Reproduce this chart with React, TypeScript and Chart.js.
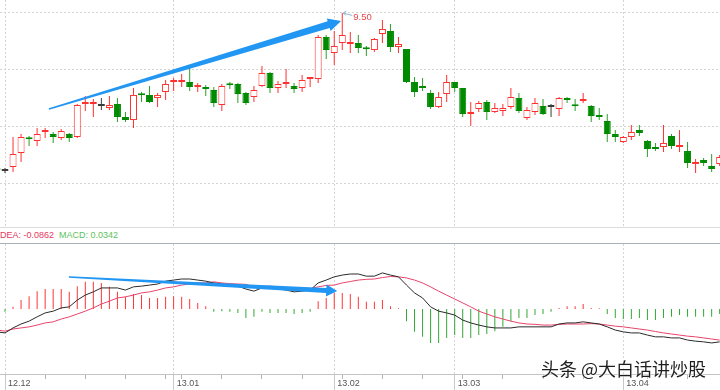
import React, { useEffect, useRef } from 'react';
import { Chart, registerables } from 'chart.js';

Chart.register(...registerables);

// ---------- data ----------
const dates = [
  '2012-11-30',
  '2012-12-03', '2012-12-04', '2012-12-05', '2012-12-06', '2012-12-07',
  '2012-12-10', '2012-12-11', '2012-12-12', '2012-12-13', '2012-12-14',
  '2012-12-17', '2012-12-18', '2012-12-19', '2012-12-20', '2012-12-21',
  '2012-12-24', '2012-12-25', '2012-12-26', '2012-12-27', '2012-12-28',
  '2012-12-31', '2013-01-04',
  '2013-01-07', '2013-01-08', '2013-01-09', '2013-01-10', '2013-01-11',
  '2013-01-14', '2013-01-15', '2013-01-16', '2013-01-17', '2013-01-18',
  '2013-01-21', '2013-01-22', '2013-01-23', '2013-01-24', '2013-01-25',
  '2013-01-28', '2013-01-29', '2013-01-30', '2013-01-31', '2013-02-01',
  '2013-02-04', '2013-02-05', '2013-02-06', '2013-02-07', '2013-02-08',
  '2013-02-18', '2013-02-19', '2013-02-20', '2013-02-21', '2013-02-22',
  '2013-02-25', '2013-02-26', '2013-02-27', '2013-02-28', '2013-03-01',
  '2013-03-04', '2013-03-05', '2013-03-06', '2013-03-07', '2013-03-08',
  '2013-03-11', '2013-03-12', '2013-03-13', '2013-03-14', '2013-03-15',
  '2013-03-18', '2013-03-19', '2013-03-20', '2013-03-21', '2013-03-22',
  '2013-03-25', '2013-03-26', '2013-03-27', '2013-03-28', '2013-03-29',
  '2013-04-01', '2013-04-02', '2013-04-03',
  '2013-04-08', '2013-04-09', '2013-04-10', '2013-04-11', '2013-04-12',
  '2013-04-15', '2013-04-16', '2013-04-17', '2013-04-18', '2013-04-19',
];

const open = [
  8.140, 8.114, 8.149, 8.272, 8.395, 8.377, 8.456, 8.439, 8.403, 8.439,
  8.412, 8.702, 8.702, 8.684, 8.667, 8.702, 8.588, 8.561, 8.781, 8.781,
  8.754, 8.807, 8.895, 8.895, 8.895, 8.851, 8.851, 8.825, 8.693, 8.868,
  8.877, 8.798, 8.763, 8.860, 8.974, 8.842, 8.877, 8.860, 8.842, 8.921,
  8.921, 9.289, 9.149, 9.237, 9.228, 9.237, 9.184, 9.175, 9.316, 9.342,
  9.202, 9.184, 8.895, 8.860, 8.798, 8.675, 8.789, 8.895, 8.842, 8.614,
  8.658, 8.719, 8.632, 8.640, 8.675, 8.754, 8.579, 8.632, 8.684, 8.675,
  8.658, 8.754, 8.684, 8.728, 8.684, 8.605, 8.553, 8.439, 8.368, 8.412,
  8.474, 8.377, 8.325, 8.325, 8.421, 8.325, 8.289, 8.175, 8.211, 8.158,
  8.175,
];
const high = [
  8.158, 8.140, 8.412, 8.439, 8.421, 8.491, 8.491, 8.456, 8.482, 8.447,
  8.702, 8.772, 8.746, 8.754, 8.772, 8.754, 8.632, 8.842, 8.807, 8.860,
  8.798, 8.912, 8.930, 8.965, 9.017, 8.886, 8.868, 8.851, 8.877, 8.895,
  8.886, 8.807, 8.860, 9.035, 8.983, 8.903, 9.009, 8.886, 8.956, 8.930,
  9.307, 9.307, 9.342, 9.500, 9.333, 9.307, 9.211, 9.281, 9.439, 9.403,
  9.289, 9.184, 8.939, 8.930, 8.825, 8.807, 8.956, 8.895, 8.842, 8.719,
  8.728, 8.737, 8.710, 8.702, 8.842, 8.798, 8.675, 8.754, 8.746, 8.702,
  8.763, 8.763, 8.746, 8.798, 8.693, 8.667, 8.614, 8.474, 8.421, 8.517,
  8.517, 8.386, 8.360, 8.517, 8.439, 8.474, 8.368, 8.219, 8.228, 8.263,
  8.254,
];
const low = [
  8.105, 8.096, 8.105, 8.193, 8.333, 8.333, 8.403, 8.360, 8.386, 8.368,
  8.403, 8.640, 8.588, 8.649, 8.649, 8.544, 8.544, 8.491, 8.719, 8.710,
  8.675, 8.737, 8.816, 8.851, 8.816, 8.807, 8.772, 8.675, 8.640, 8.833,
  8.710, 8.693, 8.719, 8.851, 8.798, 8.798, 8.842, 8.798, 8.807, 8.851,
  8.886, 9.096, 9.044, 9.175, 9.149, 9.149, 9.123, 9.158, 9.237, 9.158,
  9.149, 8.886, 8.763, 8.816, 8.658, 8.667, 8.719, 8.807, 8.588, 8.509,
  8.632, 8.561, 8.623, 8.596, 8.658, 8.623, 8.561, 8.605, 8.605, 8.588,
  8.596, 8.710, 8.640, 8.710, 8.544, 8.561, 8.368, 8.368, 8.360, 8.386,
  8.421, 8.237, 8.289, 8.281, 8.307, 8.281, 8.140, 8.096, 8.158, 8.105,
  8.158,
];
const close = [
  8.123, 8.114, 8.263, 8.412, 8.393, 8.439, 8.458, 8.412, 8.465, 8.403,
  8.693, 8.704, 8.704, 8.684, 8.693, 8.588, 8.561, 8.781, 8.779, 8.719,
  8.781, 8.877, 8.897, 8.897, 8.851, 8.853, 8.833, 8.710, 8.860, 8.866,
  8.789, 8.710, 8.825, 8.974, 8.842, 8.877, 8.879, 8.833, 8.912, 8.923,
  9.289, 9.175, 9.211, 9.307, 9.246, 9.193, 9.182, 9.272, 9.360, 9.202,
  9.228, 8.895, 8.807, 8.842, 8.675, 8.763, 8.895, 8.842, 8.614, 8.632,
  8.710, 8.632, 8.667, 8.667, 8.763, 8.640, 8.649, 8.710, 8.614, 8.675,
  8.754, 8.737, 8.682, 8.730, 8.596, 8.588, 8.439, 8.412, 8.412, 8.456,
  8.447, 8.307, 8.307, 8.360, 8.333, 8.327, 8.184, 8.193, 8.184, 8.132,
  8.237,
];

const dif = [
  -0.064, -0.067, -0.053, -0.042, -0.034, -0.022, -0.011, -0.006, 0.003, 0.006,
  0.025, 0.039, 0.048, 0.059, 0.059, 0.059, 0.053, 0.062, 0.064, 0.067,
  0.070, 0.078, 0.081, 0.084, 0.084, 0.081, 0.078, 0.073, 0.070, 0.067,
  0.064, 0.056, 0.050, 0.059, 0.059, 0.056, 0.053, 0.048, 0.050, 0.053,
  0.073, 0.081, 0.090, 0.095, 0.098, 0.098, 0.092, 0.092, 0.101, 0.095,
  0.090, 0.067, 0.045, 0.031, 0.006, -0.006, -0.011, -0.017, -0.031, -0.039,
  -0.045, -0.050, -0.053, -0.053, -0.053, -0.050, -0.050, -0.050, -0.050, -0.050,
  -0.042, -0.039, -0.039, -0.036, -0.039, -0.042, -0.050, -0.059, -0.064, -0.067,
  -0.067, -0.073, -0.078, -0.078, -0.081, -0.081, -0.087, -0.090, -0.092, -0.095,
  -0.092,
];
const dea = [
  -0.059, -0.062, -0.056, -0.053, -0.050, -0.045, -0.039, -0.036, -0.028, -0.022,
  -0.014, -0.006, 0.003, 0.014, 0.022, 0.031, 0.034, 0.039, 0.045, 0.048,
  0.053, 0.059, 0.062, 0.067, 0.070, 0.073, 0.073, 0.076, 0.073, 0.071,
  0.070, 0.069, 0.062, 0.063, 0.064, 0.062, 0.059, 0.055, 0.056, 0.057,
  0.062, 0.066, 0.067, 0.073, 0.077, 0.081, 0.083, 0.084, 0.088, 0.091,
  0.090, 0.087, 0.081, 0.073, 0.062, 0.050, 0.039, 0.028, 0.017, 0.006,
  -0.006, -0.014, -0.022, -0.028, -0.034, -0.039, -0.042, -0.043, -0.045, -0.045,
  -0.043, -0.042, -0.042, -0.042, -0.041, -0.042, -0.045, -0.048, -0.050, -0.053,
  -0.056, -0.059, -0.063, -0.067, -0.070, -0.073, -0.076, -0.078, -0.081, -0.084,
  -0.087,
];
const macd = [
  -0.008, -0.008, 0.006, 0.025, 0.036, 0.050, 0.056, 0.056, 0.056, 0.048,
  0.064, 0.076, 0.076, 0.073, 0.062, 0.048, 0.034, 0.042, 0.039, 0.031,
  0.031, 0.034, 0.036, 0.034, 0.028, 0.017, 0.008, -0.008, -0.006, -0.008,
  -0.011, -0.025, -0.022, -0.008, -0.011, -0.011, -0.011, -0.014, -0.011, -0.008,
  0.022, 0.031, 0.045, 0.045, 0.042, 0.034, 0.020, 0.020, 0.025, 0.008,
  0.002, -0.034, -0.064, -0.078, -0.095, -0.095, -0.081, -0.073, -0.081, -0.081,
  -0.073, -0.070, -0.062, -0.050, -0.034, -0.025, -0.025, -0.017, -0.014, -0.008,
  0.003, 0.008, 0.008, 0.014, 0.003, 0.002, -0.014, -0.025, -0.028, -0.028,
  -0.025, -0.031, -0.031, -0.025, -0.022, -0.017, -0.022, -0.022, -0.022, -0.022,
  -0.014,
];

const priceGridLevels = [8.0, 8.5, 9.0, 9.5];
const stripDEA = 'DEA: -0.0862';
const stripMACD = 'MACD: 0.0342';
const watermark = '头条 @大白话讲炒股';

// hand-drawn annotation arrows, anchored in data units [day position, value]
const priceArrow = { from: [6.47, 8.658], to: [42.86, 9.43] };
const macdArrow = { from: [8.95, 0.0896], to: [42.37, 0.0504] };

// ---------- derived helpers ----------
const X_MIN = 0.377;
const X_MAX = 90.04;
const PRICE_MIN = 7.6228;
const PRICE_MAX = 9.614;
const MACD_LIM = 0.182;

const dayMs = 864e5;
const parseD = (s: string) => new Date(s + 'T00:00:00Z');
const monthStarts: number[] = [];
const weekStarts: number[] = [];
dates.forEach((d, k) => {
  if (k === 0) return;
  if (d.slice(0, 7) !== dates[k - 1].slice(0, 7)) monthStarts.push(k);
  const a = parseD(dates[k - 1]);
  const b = parseD(d);
  if (b.getUTCDay() < a.getUTCDay() || b.getTime() - a.getTime() >= 7 * dayMs) weekStarts.push(k);
});
const axisTicks = Array.from(new Set([...weekStarts, ...monthStarts])).sort((a, b) => a - b);
const monthLabel = (k: number) => dates[k].slice(2, 4) + '.' + dates[k].slice(5, 7);

const UP = '#ff3030';
const DOWN = '#008a00';
const DOWN_WICK = '#2a9f2a';
const FLAT = '#3a3a3a';
const dir = (k: number) => Math.sign(close[k] - open[k]);

function drawArrow(ctx: CanvasRenderingContext2D, x0: number, y0: number, x1: number, y1: number,
  w0: number, w1: number, headLen: number, headW: number, color: string) {
  const dx = x1 - x0, dy = y1 - y0;
  const L = Math.hypot(dx, dy);
  const ux = dx / L, uy = dy / L;
  const nx = -uy, ny = ux;
  const bx = x1 - ux * headLen, by = y1 - uy * headLen;
  ctx.save();
  ctx.fillStyle = color;
  ctx.beginPath();
  ctx.moveTo(x0 + nx * w0 / 2, y0 + ny * w0 / 2);
  ctx.lineTo(bx + nx * w1 / 2, by + ny * w1 / 2);
  ctx.lineTo(bx + nx * headW / 2, by + ny * headW / 2);
  ctx.lineTo(x1, y1);
  ctx.lineTo(bx - nx * headW / 2, by - ny * headW / 2);
  ctx.lineTo(bx - nx * w1 / 2, by - ny * w1 / 2);
  ctx.lineTo(x0 - nx * w0 / 2, y0 - ny * w0 / 2);
  ctx.closePath();
  ctx.fill();
  ctx.restore();
}

const priceAnnotations = {
  id: 'priceAnnotations',
  afterDatasetsDraw(chart: any) {
    const { ctx, scales } = chart;
    const xs = scales.x, ys = scales.y;
    // max-high label
    let kMax = 0;
    high.forEach((h, k) => { if (h > high[kMax]) kMax = k; });
    const px = xs.getPixelForValue(kMax);
    const py = ys.getPixelForValue(high[kMax]);
    ctx.save();
    ctx.strokeStyle = '#8fb4d6';
    ctx.lineWidth = 1;
    ctx.beginPath();
    ctx.moveTo(px + 1, py);
    ctx.lineTo(px + 10, py + 2.5);
    ctx.moveTo(px + 1, py);
    ctx.lineTo(px + 4, py - 2);
    ctx.moveTo(px + 1, py);
    ctx.lineTo(px + 3.5, py + 2.5);
    ctx.stroke();
    ctx.fillStyle = '#e8474a';
    ctx.font = '9.5px "Liberation Sans", Arial, sans-serif';
    ctx.textAlign = 'left';
    ctx.textBaseline = 'middle';
    ctx.fillText(high[kMax].toFixed(2), px + 11, py + 4);
    ctx.restore();
    // trend arrow
    drawArrow(ctx,
      xs.getPixelForValue(priceArrow.from[0]), ys.getPixelForValue(priceArrow.from[1]),
      xs.getPixelForValue(priceArrow.to[0]), ys.getPixelForValue(priceArrow.to[1]),
      1.5, 7, 13, 13, '#2196f3');
  },
};

const macdAnnotations = {
  id: 'macdAnnotations',
  afterDatasetsDraw(chart: any) {
    const { ctx, scales } = chart;
    drawArrow(ctx,
      scales.x.getPixelForValue(macdArrow.from[0]), scales.y.getPixelForValue(macdArrow.from[1]),
      scales.x.getPixelForValue(macdArrow.to[0]), scales.y.getPixelForValue(macdArrow.to[1]),
      1.5, 5, 11, 12, '#2196f3');
  },
};

function topConfig(): any {
  return {
    type: 'bar',
    data: {
      datasets: [
        {
          label: 'body',
          data: dates.map((_, k) => ({ x: k, y: [open[k], close[k]] })),
          backgroundColor: dates.map((_, k) => (dir(k) > 0 ? '#ffffff' : dir(k) < 0 ? DOWN : FLAT)),
          borderColor: dates.map((_, k) => (dir(k) > 0 ? UP : dir(k) < 0 ? DOWN : FLAT)),
          borderWidth: 1,
          borderSkipped: false,
          barThickness: 7,
          minBarLength: 2,
          inflateAmount: 0,
          grouped: false,
        },
        {
          label: 'wick',
          data: dates.map((_, k) => ({ x: k, y: [low[k], high[k]] })),
          backgroundColor: dates.map((_, k) => (dir(k) > 0 ? UP : dir(k) < 0 ? DOWN_WICK : FLAT)),
          borderWidth: 0,
          barThickness: 1,
          inflateAmount: 0,
          grouped: false,
        },
      ],
    },
    options: {
      animation: false,
      responsive: false,
      maintainAspectRatio: false,
      layout: { padding: 0 },
      plugins: { legend: { display: false }, tooltip: { enabled: false } },
      scales: {
        x: {
          type: 'linear',
          min: X_MIN,
          max: X_MAX,
          offset: false,
          afterBuildTicks: (ax: any) => { ax.ticks = monthStarts.map((v) => ({ value: v })); },
          afterFit: (ax: any) => { ax.height = 0; },
          ticks: { display: false },
          grid: { offset: false, color: '#d4d4d4', drawTicks: false, lineWidth: 1 },
          border: { display: false, dash: [2, 2] },
        },
        y: {
          type: 'linear',
          min: PRICE_MIN,
          max: PRICE_MAX,
          afterBuildTicks: (ax: any) => { ax.ticks = priceGridLevels.map((v) => ({ value: v })); },
          afterFit: (ax: any) => { ax.width = 0; },
          ticks: { display: false },
          grid: { color: '#d4d4d4', drawTicks: false, lineWidth: 1 },
          border: { display: false, dash: [2, 2] },
        },
      },
    },
    plugins: [priceAnnotations],
  };
}

function botConfig(): any {
  const isMonth = (ctx: any) => ctx.tick && monthStarts.includes(ctx.tick.value);
  return {
    type: 'bar',
    data: {
      datasets: [
        {
          type: 'line',
          label: 'DIF',
          data: dif.map((v, k) => ({ x: k, y: v })),
          borderColor: '#2a2a2a',
          borderWidth: 1,
          pointRadius: 0,
          tension: 0,
        },
        {
          type: 'line',
          label: 'DEA',
          data: dea.map((v, k) => ({ x: k, y: v })),
          borderColor: '#e8436b',
          borderWidth: 1,
          pointRadius: 0,
          tension: 0,
        },
        {
          type: 'bar',
          label: 'MACD',
          data: macd.map((v, k) => ({ x: k, y: v })),
          backgroundColor: macd.map((v) => (v >= 0 ? '#ff3535' : '#33a833')),
          barThickness: 1,
          inflateAmount: 0,
          grouped: false,
        },
      ],
    },
    options: {
      animation: false,
      responsive: false,
      maintainAspectRatio: false,
      layout: { padding: 0 },
      plugins: { legend: { display: false }, tooltip: { enabled: false } },
      scales: {
        x: {
          type: 'linear',
          min: X_MIN,
          max: X_MAX,
          offset: false,
          afterBuildTicks: (ax: any) => { ax.ticks = axisTicks.map((v) => ({ value: v })); },
          afterFit: (ax: any) => { ax.height = 16; },
          grid: {
            offset: false,
            color: (ctx: any) => (isMonth(ctx) ? '#d4d4d4' : 'rgba(0,0,0,0)'),
            tickColor: (ctx: any) => (isMonth(ctx) ? '#c8c8c8' : '#b4b4b4'),
            tickLength: 16,
            tickBorderDash: (ctx: any) => (isMonth(ctx) ? [] : [4, 40]),
          },
          border: { display: true, color: '#c4c4c4', width: 1, dash: [2, 2] },
          ticks: {
            autoSkip: false,
            maxRotation: 0,
            minRotation: 0,
            align: 'start',
            labelOffset: 3,
            padding: -12,
            color: '#555555',
            font: { size: 9, family: '"Liberation Sans", Arial, sans-serif' },
            callback: (v: number) => (monthStarts.includes(v) ? monthLabel(v) : ''),
          },
        },
        y: {
          type: 'linear',
          min: -MACD_LIM,
          max: MACD_LIM,
          afterFit: (ax: any) => { ax.width = 0; },
          ticks: { display: false },
          grid: { display: false },
          border: { display: false },
        },
      },
    },
    plugins: [macdAnnotations],
  };
}

export default function App() {
  const topRef = useRef<HTMLCanvasElement>(null);
  const botRef = useRef<HTMLCanvasElement>(null);
  useEffect(() => {
    const top = new Chart(topRef.current as HTMLCanvasElement, topConfig());
    const bot = new Chart(botRef.current as HTMLCanvasElement, botConfig());
    return () => { top.destroy(); bot.destroy(); };
  }, []);
  return (
    <div style={{ position: 'fixed', left: 0, top: 0, width: 720, height: 390, overflow: 'hidden', background: '#ffffff', fontFamily: '"Liberation Sans", Arial, sans-serif' }}>
      <canvas ref={topRef} width={720} height={227} style={{ position: 'absolute', left: 0, top: 0, width: 720, height: 227 }} />
      <div style={{ position: 'absolute', left: 0, top: 227, width: 720, height: 17, boxSizing: 'border-box', borderTop: '1px solid #dcdcdc', borderBottom: '1px solid #a9b1b9', fontSize: 9, lineHeight: '15px', whiteSpace: 'nowrap' }}>
        <span style={{ color: '#e6395f' }}>{stripDEA}</span>
        <span style={{ color: '#5cc25c', marginLeft: 5 }}>{stripMACD}</span>
      </div>
      <canvas ref={botRef} width={720} height={146} style={{ position: 'absolute', left: 0, top: 244, width: 720, height: 146 }} />
      <div style={{ position: 'absolute', left: 541, top: 356, fontFamily: '"Noto Sans CJK SC", sans-serif', fontSize: 18, lineHeight: '24px', color: '#1e1e1e', whiteSpace: 'nowrap', textShadow: '0 0 2px #fff, 0 0 2px #fff' }}>{watermark}</div>
    </div>
  );
}
